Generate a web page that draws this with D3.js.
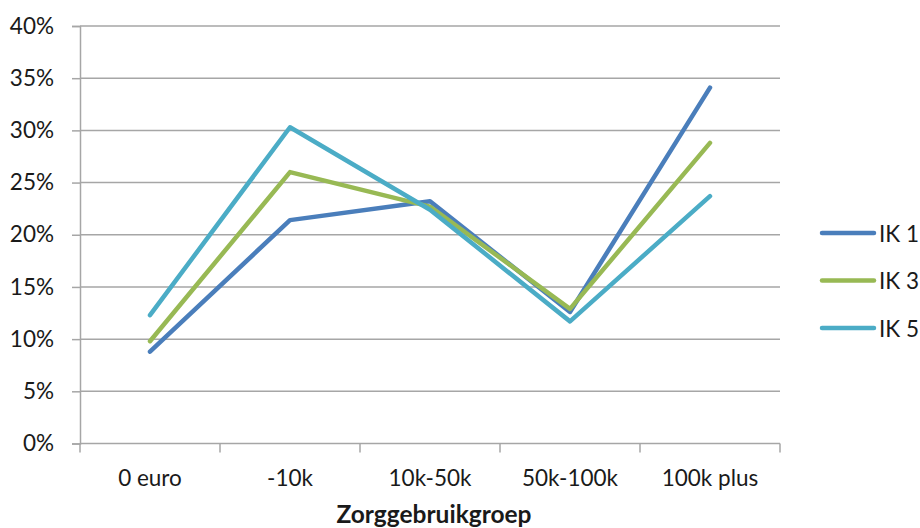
<!DOCTYPE html>
<html>
<head>
<meta charset="utf-8">
<script src="https://cdn.jsdelivr.net/npm/d3@7"></script>
<style>
  body { margin: 0; background: white; }
  text { font-family: Lato, "Open Sans", sans-serif; fill: #1a1a1a; }
</style>
</head>
<body>
<div id="chart"></div>
<script>
// Data
const categories = ["0 euro", "-10k", "10k-50k", "50k-100k", "100k plus"];
const ik1 = [8.8, 21.4, 23.2, 12.6, 34.1];
const ik3 = [9.8, 26.0, 22.7, 12.9, 28.8];
const ik5 = [12.3, 30.3, 22.4, 11.7, 23.7];
const seriesNames = ["IK 1", "IK 3", "IK 5"];
const yTicks = [0, 5, 10, 15, 20, 25, 30, 35, 40];

const width = 920;
const height = 528;
const margin = { top: 26, right: 140, bottom: 84.5, left: 80 };

const series = [
    { name: seriesNames[0], values: ik1, color: "#4a7ebb" },
    { name: seriesNames[1], values: ik3, color: "#98b954" },
    { name: seriesNames[2], values: ik5, color: "#4bacc6" }
];

const svg = d3.select("#chart")
    .append("svg")
    .attr("width", width)
    .attr("height", height);

const x = d3.scaleBand()
    .domain(categories)
    .range([margin.left, width - margin.right]);

const y = d3.scaleLinear()
    .domain([0, 40])
    .range([height - margin.bottom, margin.top]);

// Gridlines
svg.append("g")
    .selectAll("line")
    .data(yTicks.filter(t => t > 0))
    .enter()
    .append("line")
    .attr("x1", margin.left)
    .attr("x2", width - margin.right)
    .attr("y1", d => y(d))
    .attr("y2", d => y(d))
    .attr("stroke", "#a6a6a6")
    .attr("stroke-width", 1.5);

// Y axis
const yAxis = svg.append("g")
    .attr("transform", `translate(${margin.left},0)`)
    .call(d3.axisLeft(y).tickValues(yTicks).tickFormat(d => d + "%").tickSize(8).tickPadding(18));
yAxis.select(".domain").attr("stroke", "#a6a6a6").attr("stroke-width", 1.5);
yAxis.selectAll(".tick line").attr("stroke", "#a6a6a6").attr("stroke-width", 1.5);
yAxis.selectAll("text")
    .style("font-size", "22.5px")
    .style("font-family", "Lato, 'Open Sans', sans-serif")
    .attr("fill", "#1a1a1a");

// X axis: ticks between categories
const xAxisG = svg.append("g")
    .attr("transform", `translate(0,${y(0)})`);
xAxisG.append("line")
    .attr("x1", margin.left)
    .attr("x2", width - margin.right)
    .attr("stroke", "#a6a6a6")
    .attr("stroke-width", 1.5);
const boundaries = categories.map(c => x(c)).concat([x(categories[categories.length - 1]) + x.bandwidth()]);
xAxisG.selectAll(".sep")
    .data(boundaries)
    .enter()
    .append("line")
    .attr("x1", d => d)
    .attr("x2", d => d)
    .attr("y1", 0)
    .attr("y2", 9)
    .attr("stroke", "#a6a6a6")
    .attr("stroke-width", 1.5);
xAxisG.selectAll(".lbl")
    .data(categories)
    .enter()
    .append("text")
    .attr("x", d => x(d) + x.bandwidth() / 2)
    .attr("y", 42)
    .attr("text-anchor", "middle")
    .style("font-size", "22.5px")
    .text(d => d);

// Lines
const line = d3.line()
    .x((d, i) => x(categories[i]) + x.bandwidth() / 2)
    .y(d => y(d));

svg.selectAll(".series")
    .data(series)
    .enter()
    .append("path")
    .attr("d", d => line(d.values))
    .attr("fill", "none")
    .attr("stroke", d => d.color)
    .attr("stroke-width", 4.5)
    .attr("stroke-linecap", "round")
    .attr("stroke-linejoin", "round");

// Legend
const legend = svg.append("g");
series.forEach((s, i) => {
    const ly = 233 + i * 47.5;
    legend.append("line")
        .attr("x1", 822)
        .attr("x2", 874)
        .attr("y1", ly)
        .attr("y2", ly)
        .attr("stroke", s.color)
        .attr("stroke-width", 4.5)
        .attr("stroke-linecap", "round");
    legend.append("text")
        .attr("x", 879)
        .attr("y", ly + 8.5)
        .style("font-size", "22.5px")
        .text(s.name);
});

// Axis title
svg.append("text")
    .attr("x", (margin.left + width - margin.right) / 2 + 4)
    .attr("y", 523)
    .attr("text-anchor", "middle")
    .style("font-size", "24.5px")
    .style("font-weight", "bold")
    .text("Zorggebruikgroep");
</script>
</body>
</html>
